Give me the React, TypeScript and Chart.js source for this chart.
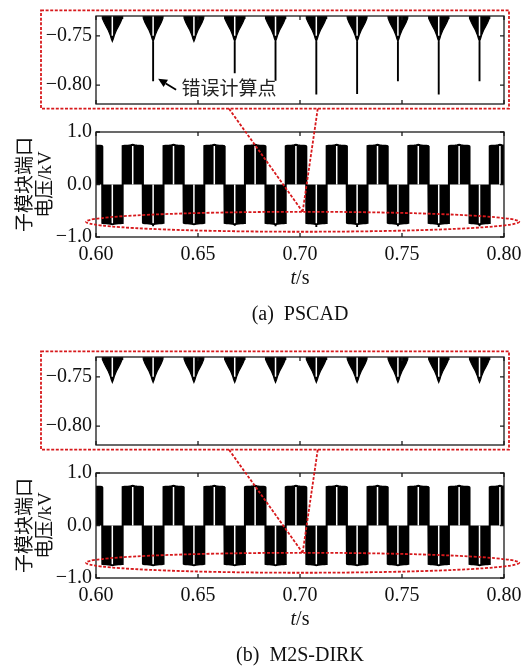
import { useEffect, useRef } from 'react';
import { Chart, registerables } from 'chart.js';

Chart.register(...registerables);

const SERIF = '"Liberation Serif", "Times New Roman", serif';
const CJK = '"Noto Sans CJK SC", sans-serif';
const TITLE_FONT = '"Liberation Serif", "Noto Sans CJK SC", serif';
const INK = '#111';
const RED = '#d7191c';

// axes
const tRange = [0.6, 0.8];
const tTicks = [0.6, 0.65, 0.7, 0.75, 0.8];
const vRangeMain = [-1.0, 1.0];
const vTicksMain = [-1.0, 0.0, 1.0];
const vRangeZoom = [-0.819, -0.73];
const vTicksZoom = [-0.8, -0.75];

// centres of the switched half-cycle blocks (s)
const posCentres = [0.598, 0.618, 0.638, 0.658, 0.678, 0.698, 0.718, 0.738, 0.758, 0.778, 0.798];
const negCentres = [0.608, 0.628, 0.648, 0.668, 0.688, 0.708, 0.728, 0.748, 0.768, 0.788];

// capacitor-voltage envelope over one block: offset from the block centre (s) and magnitude (kV)
const envOffset = [0, 0.0005, 0.001, 0.002, 0.003, 0.004, 0.0048, 0.005];
const envLevel = [0.7556, 0.753, 0.7495, 0.7445, 0.7405, 0.7365, 0.7325, 0.727];

// unswitched interval at each block centre reaches this magnitude (kV)
const gapLevel = 0.75;

// trough minima produced by each solver (kV); null = trough tip only
const pscadSpikes: (number | null)[] = [null, -0.796, null, -0.788, -0.7955, -0.8095, -0.809, -0.796, -0.8095, -0.796];
const dirkSpikes: (number | null)[] = [null, null, null, null, null, null, null, null, null, null];

// dotted focus marks: region circled in the full view and where the connectors leave the zoom frame
const focusT = [0.5951, 0.8075];
const focusV = [-0.9, -0.52];
const connectorT = [0.6652, 0.7087];

// layout (px)
const W = 531;
const ZOOM_H = 120;
const MAIN_TOP = 116;
const MAIN_H = 174;
const AXIS_W = 96;
const RIGHT_PAD = 27;

type Pt = { x: number; y: number | null };

const fmt = (v: number, d: number) => (v < 0 ? '\u2212' : '') + Math.abs(v).toFixed(d);

function halves() {
  return [
    ...posCentres.map((c) => ({ c, s: 1 })),
    ...negCentres.map((c) => ({ c, s: -1 })),
  ].sort((a, b) => a.c - b.c);
}

function envelopePoints(): Pt[] {
  const pts: Pt[] = [];
  for (const { c, s } of halves()) {
    for (let i = envOffset.length - 1; i > 0; i--) pts.push({ x: c - envOffset[i], y: s * envLevel[i] });
    pts.push({ x: c, y: s * envLevel[0] });
    for (let i = 1; i < envOffset.length; i++) pts.push({ x: c + envOffset[i], y: s * envLevel[i] });
  }
  return pts;
}

function gapPoints(): Pt[] {
  const pts: Pt[] = [];
  for (const { c, s } of halves()) {
    pts.push({ x: c, y: 0 }, { x: c, y: s * gapLevel }, { x: c, y: null });
  }
  return pts;
}

function spikePoints(spikes: (number | null)[]): Pt[] {
  const pts: Pt[] = [];
  spikes.forEach((v, i) => {
    if (v == null) return;
    const c = negCentres[i];
    pts.push({ x: c, y: -envLevel[0] }, { x: c, y: v }, { x: c, y: null });
  });
  return pts;
}

function datasets(spikes: (number | null)[], strokeWidth: number) {
  const env = envelopePoints();
  const base = { pointRadius: 0, tension: 0, spanGaps: false };
  // later entries are painted first
  return [
    { ...base, data: spikePoints(spikes), borderColor: '#000', borderWidth: 1.9, fill: false },
    { ...base, data: env, borderColor: '#000', borderWidth: strokeWidth, fill: false },
    { ...base, data: gapPoints(), borderColor: '#fff', borderWidth: 1.5, fill: false },
    { ...base, data: env, borderColor: 'rgba(0,0,0,0)', borderWidth: 0, backgroundColor: '#000', fill: 'origin' },
  ];
}

// frame with inward ticks on all four sides
const framePlugin = {
  id: 'frame',
  afterDatasetsDraw(chart: any) {
    const { ctx, chartArea: a } = chart;
    const x = chart.scales.x;
    const y = chart.scales.y;
    const L = 4;
    ctx.save();
    ctx.strokeStyle = '#1a1a1a';
    ctx.lineWidth = 1.3;
    ctx.strokeRect(a.left, a.top, a.right - a.left, a.bottom - a.top);
    ctx.beginPath();
    x.ticks.forEach((t: any) => {
      const p = x.getPixelForValue(t.value);
      ctx.moveTo(p, a.bottom);
      ctx.lineTo(p, a.bottom - L);
      ctx.moveTo(p, a.top);
      ctx.lineTo(p, a.top + L);
    });
    y.ticks.forEach((t: any) => {
      const p = y.getPixelForValue(t.value);
      ctx.moveTo(a.left, p);
      ctx.lineTo(a.left + L, p);
      ctx.moveTo(a.right, p);
      ctx.lineTo(a.right - L, p);
    });
    ctx.stroke();
    ctx.restore();
  },
};

// "t/s" with an italic t
const timeTitle = {
  id: 'timeTitle',
  afterDraw(chart: any) {
    const { ctx, chartArea: a } = chart;
    const cx = (a.left + a.right) / 2;
    const y = a.bottom + 41.5;
    const italic = `italic 20px ${SERIF}`;
    const upright = `20px ${SERIF}`;
    ctx.save();
    ctx.fillStyle = INK;
    ctx.textBaseline = 'middle';
    ctx.textAlign = 'left';
    ctx.font = italic;
    const wt = ctx.measureText('t').width;
    ctx.font = upright;
    const ws = ctx.measureText('/s').width;
    const x0 = cx - (wt + ws) / 2;
    ctx.font = italic;
    ctx.fillText('t', x0, y);
    ctx.font = upright;
    ctx.fillText('/s', x0 + wt, y);
    ctx.restore();
  },
};

// arrow and label pointing at one wrongly computed trough
function errorNote(index: number, spikes: (number | null)[]) {
  return {
    id: 'errorNote',
    afterDraw(chart: any) {
      const v = spikes[index];
      if (v == null) return;
      const { ctx } = chart;
      const px = chart.scales.x.getPixelForValue(negCentres[index]);
      const py = chart.scales.y.getPixelForValue(v);
      const tip = { x: px + 5, y: py - 2.5 };
      const tail = { x: px + 23, y: py + 8.5 };
      const ang = Math.atan2(tip.y - tail.y, tip.x - tail.x);
      const hl = 9;
      const hw = 4.2;
      const bx = tip.x - hl * Math.cos(ang);
      const by = tip.y - hl * Math.sin(ang);
      ctx.save();
      ctx.strokeStyle = '#000';
      ctx.fillStyle = '#000';
      ctx.lineWidth = 1.8;
      ctx.beginPath();
      ctx.moveTo(tail.x, tail.y);
      ctx.lineTo(bx, by);
      ctx.stroke();
      ctx.beginPath();
      ctx.moveTo(tip.x, tip.y);
      ctx.lineTo(bx + hw * Math.sin(ang), by - hw * Math.cos(ang));
      ctx.lineTo(bx - hw * Math.sin(ang), by + hw * Math.cos(ang));
      ctx.closePath();
      ctx.fill();
      ctx.font = `19px ${CJK}`;
      ctx.fillStyle = '#222';
      ctx.textBaseline = 'middle';
      ctx.textAlign = 'left';
      ctx.fillText('错误计算点', px + 28.5, py + 7);
      ctx.restore();
    },
  };
}

function xScale(showLabels: boolean, height: number) {
  return {
    type: 'linear' as const,
    min: tRange[0],
    max: tRange[1],
    grid: { display: false, drawTicks: false },
    border: { display: false },
    afterBuildTicks: (s: any) => {
      s.ticks = tTicks.map((v) => ({ value: v }));
    },
    afterFit: (s: any) => {
      s.height = height;
    },
    ticks: {
      autoSkip: false,
      maxRotation: 0,
      padding: 6,
      color: INK,
      font: { family: SERIF, size: 20 },
      callback: (v: any) => (showLabels ? Number(v).toFixed(2) : ''),
    },
  };
}

function yScale(range: number[], ticks: number[], digits: number, title?: any) {
  return {
    type: 'linear' as const,
    min: range[0],
    max: range[1],
    grid: { display: false, drawTicks: false },
    border: { display: false },
    afterBuildTicks: (s: any) => {
      s.ticks = ticks.map((v) => ({ value: v }));
    },
    afterFit: (s: any) => {
      s.width = AXIS_W;
    },
    ticks: {
      autoSkip: false,
      padding: 4,
      color: INK,
      font: { family: SERIF, size: 20 },
      callback: (v: any) => fmt(Number(v), digits),
    },
    title: title || { display: false },
  };
}

function commonOptions(padTop: number) {
  return {
    animation: false as const,
    responsive: false,
    maintainAspectRatio: false,
    events: [] as any[],
    layout: { padding: { top: padTop, right: RIGHT_PAD, left: 0, bottom: 0 } },
    plugins: { legend: { display: false }, tooltip: { enabled: false } },
  };
}

function drawFocus(canvas: HTMLCanvasElement, zoom: any, main: any) {
  const ctx = canvas.getContext('2d');
  if (!ctx) return;
  ctx.clearRect(0, 0, canvas.width, canvas.height);
  ctx.save();
  ctx.strokeStyle = RED;
  ctx.lineWidth = 1.8;
  ctx.setLineDash([3, 1.6]);

  const za = zoom.chartArea;
  const boxL = za.left - 55;
  const boxR = za.right + 5;
  const boxT = za.top - 5.7;
  const boxB = za.bottom + 4.7;
  ctx.strokeRect(boxL, boxT, boxR - boxL, boxB - boxT);

  const mx = main.scales.x;
  const my = main.scales.y;
  const ex0 = mx.getPixelForValue(focusT[0]);
  const ex1 = mx.getPixelForValue(focusT[1]);
  const eyTop = MAIN_TOP + my.getPixelForValue(focusV[1]);
  const eyBot = MAIN_TOP + my.getPixelForValue(focusV[0]);
  const cx = (ex0 + ex1) / 2;
  const cy = (eyTop + eyBot) / 2;
  ctx.beginPath();
  ctx.ellipse(cx, cy, (ex1 - ex0) / 2, (eyBot - eyTop) / 2, 0, 0, Math.PI * 2);
  ctx.stroke();

  connectorT.forEach((t) => {
    const sx = zoom.scales.x.getPixelForValue(t);
    ctx.beginPath();
    ctx.moveTo(sx, boxB);
    ctx.lineTo(cx, eyTop);
    ctx.stroke();
  });
  ctx.restore();
}

function Figure({ top, caption, spikes, noteIndex }: { top: number; caption: string; spikes: (number | null)[]; noteIndex?: number }) {
  const zoomRef = useRef<HTMLCanvasElement>(null);
  const mainRef = useRef<HTMLCanvasElement>(null);
  const overlayRef = useRef<HTMLCanvasElement>(null);

  useEffect(() => {
    if (!zoomRef.current || !mainRef.current || !overlayRef.current) return;
    const zoomPlugins: any[] = [framePlugin];
    if (noteIndex != null) zoomPlugins.push(errorNote(noteIndex, spikes));

    const zoom = new Chart(zoomRef.current, {
      type: 'line',
      data: { datasets: datasets(spikes, 1.2) as any },
      options: {
        ...commonOptions(12.7),
        scales: {
          x: xScale(false, ZOOM_H - 109.3),
          y: yScale(vRangeZoom, vTicksZoom, 2),
        },
      } as any,
      plugins: zoomPlugins,
    });

    const main = new Chart(mainRef.current, {
      type: 'line',
      data: { datasets: datasets(spikes, 2) as any },
      options: {
        ...commonOptions(13),
        scales: {
          x: xScale(true, 53),
          y: yScale(vRangeMain, vTicksMain, 1, {
            display: true,
            text: ['子模块端口', '电压/kV'],
            color: INK,
            font: { family: TITLE_FONT, size: 19, lineHeight: 1.05 },
            padding: { top: 16, bottom: 0 },
          }),
        },
      } as any,
      plugins: [framePlugin, timeTitle],
    });

    drawFocus(overlayRef.current, zoom, main);

    return () => {
      zoom.destroy();
      main.destroy();
    };
  }, []);

  return (
    <div style={{ position: 'absolute', left: 0, top, width: W, height: 300 }}>
      <canvas ref={zoomRef} width={W} height={ZOOM_H} style={{ position: 'absolute', left: 0, top: 0 }} />
      <canvas ref={mainRef} width={W} height={MAIN_H} style={{ position: 'absolute', left: 0, top: MAIN_TOP }} />
      <canvas
        ref={overlayRef}
        width={W}
        height={300}
        style={{ position: 'absolute', left: 0, top: 0, pointerEvents: 'none' }}
      />
      <div
        style={{
          position: 'absolute',
          left: AXIS_W,
          width: W - AXIS_W - RIGHT_PAD,
          top: 301,
          textAlign: 'center',
          fontFamily: SERIF,
          fontSize: 20,
          lineHeight: '24px',
          whiteSpace: 'pre',
          color: INK,
        }}
      >
        {caption}
      </div>
    </div>
  );
}

export default function App() {
  return (
    <div style={{ position: 'fixed', left: 0, top: 0, width: W, height: 666, background: '#fff', overflow: 'hidden' }}>
      <Figure top={0} caption="(a)  PSCAD" spikes={pscadSpikes} noteIndex={1} />
      <Figure top={341} caption="(b)  M2S-DIRK" spikes={dirkSpikes} />
    </div>
  );
}
